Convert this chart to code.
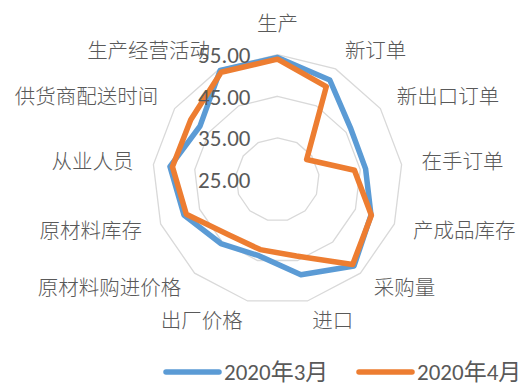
<!DOCTYPE html>
<html>
<head>
<meta charset="utf-8">
<script src="https://cdn.jsdelivr.net/npm/d3@7"></script>
<style>
  body { margin: 0; background: #fff; }
</style>
</head>
<body>
<div id="main-chart"></div>
<script>
const categories = [
  "生产", "新订单", "新出口订单", "在手订单", "产成品库存", "采购量", "进口",
  "出厂价格", "原材料购进价格", "原材料库存", "从业人员", "供货商配送时间", "生产经营活动",
];
const seriesNames = ["2020年3月", "2020年4月"];
const march = [54.3, 52.0, 46.4, 46.3, 49.0, 52.7, 48.5, 43.8, 45.5, 49.0, 51.0, 47.6, 54.6];
const april = [53.9, 50.2, 33.5, 43.6, 49.1, 52.2, 43.9, 42.3, 42.7, 48.4, 50.4, 50.3, 54.1];
const tickValues = [25, 35, 45, 55];
const tickLabels = ["25.00", "35.00", "45.00", "55.00"];

const width = 519;
const height = 387;
const cx = 277.5;
const cy = 179.6;
const outerRadius = 125;
const labelRadius = 145;
const colors = ["#5B9BD5", "#ED7D31"];
const textColor = "#595959";
const cjkFont = "'Noto Sans CJK SC', sans-serif";
const numFont = "Carlito, Calibri, 'Liberation Sans', 'Noto Sans CJK SC', sans-serif";

const svg = d3
  .select("#main-chart")
  .append("svg")
  .attr("width", width)
  .attr("height", height);

const rScale = d3
  .scaleLinear()
  .domain([tickValues[0], tickValues[tickValues.length - 1]])
  .range([0, outerRadius]);

const angle = (i) => (i * 2 * Math.PI) / categories.length;

const chart = svg.append("g").attr("transform", `translate(${cx}, ${cy})`);

// grid rings
const ring = d3
  .lineRadial()
  .angle((d, i) => angle(i))
  .radius((d) => rScale(d))
  .curve(d3.curveLinearClosed);

chart
  .selectAll(".grid")
  .data(tickValues.slice(1))
  .join("path")
  .attr("class", "grid")
  .attr("d", (v) => ring(categories.map(() => v)))
  .attr("fill", "none")
  .attr("stroke", "#d9d9d9")
  .attr("stroke-width", 1.3);

// series
const seriesLine = d3
  .lineRadial()
  .angle((d, i) => angle(i))
  .radius((d) => rScale(d))
  .curve(d3.curveLinearClosed);

chart
  .selectAll(".series")
  .data([march, april])
  .join("path")
  .attr("class", "series")
  .attr("d", (d) => seriesLine(d))
  .attr("fill", "none")
  .attr("stroke", (d, i) => colors[i])
  .attr("stroke-width", 5.5)
  .attr("stroke-linejoin", "round");

// axis value labels
chart
  .selectAll(".tick-label")
  .data(tickValues)
  .join("text")
  .attr("class", "tick-label")
  .attr("x", -27)
  .attr("y", (d) => -rScale(d))
  .attr("dy", "0.36em")
  .attr("text-anchor", "end")
  .attr("font-family", numFont)
  .attr("font-size", 23)
  .attr("fill", textColor)
  .text((d, i) => tickLabels[i]);

// category labels
chart
  .selectAll(".cat-label")
  .data(categories)
  .join("text")
  .attr("class", "cat-label")
  .attr("x", (d, i) => labelRadius * Math.sin(angle(i)))
  .attr("y", (d, i) => -labelRadius * Math.cos(angle(i)))
  .attr("dy", (d, i) => (i === 0 ? "-0.2em" : "0.35em"))
  .attr("text-anchor", (d, i) => {
    const s = Math.sin(angle(i));
    return Math.abs(s) < 0.05 ? "middle" : s > 0 ? "start" : "end";
  })
  .attr("font-family", cjkFont)
  .attr("font-weight", 300)
  .attr("font-size", 20.5)
  .attr("fill", textColor)
  .text((d) => d);

// legend
const legendItems = [
  { x: 166, name: seriesNames[0], color: colors[0] },
  { x: 359, name: seriesNames[1], color: colors[1] },
];

const legend = svg
  .selectAll(".legend")
  .data(legendItems)
  .join("g")
  .attr("class", "legend")
  .attr("transform", (d) => `translate(${d.x}, 372)`);

legend
  .append("line")
  .attr("x1", 0)
  .attr("x2", 53)
  .attr("stroke", (d) => d.color)
  .attr("stroke-width", 5.5)
  .attr("stroke-linecap", "round");

legend
  .append("text")
  .attr("x", 58)
  .attr("dy", "0.36em")
  .attr("font-family", numFont)
  .attr("font-size", 23)
  .attr("fill", textColor)
  .text((d) => d.name);
</script>
</body>
</html>
